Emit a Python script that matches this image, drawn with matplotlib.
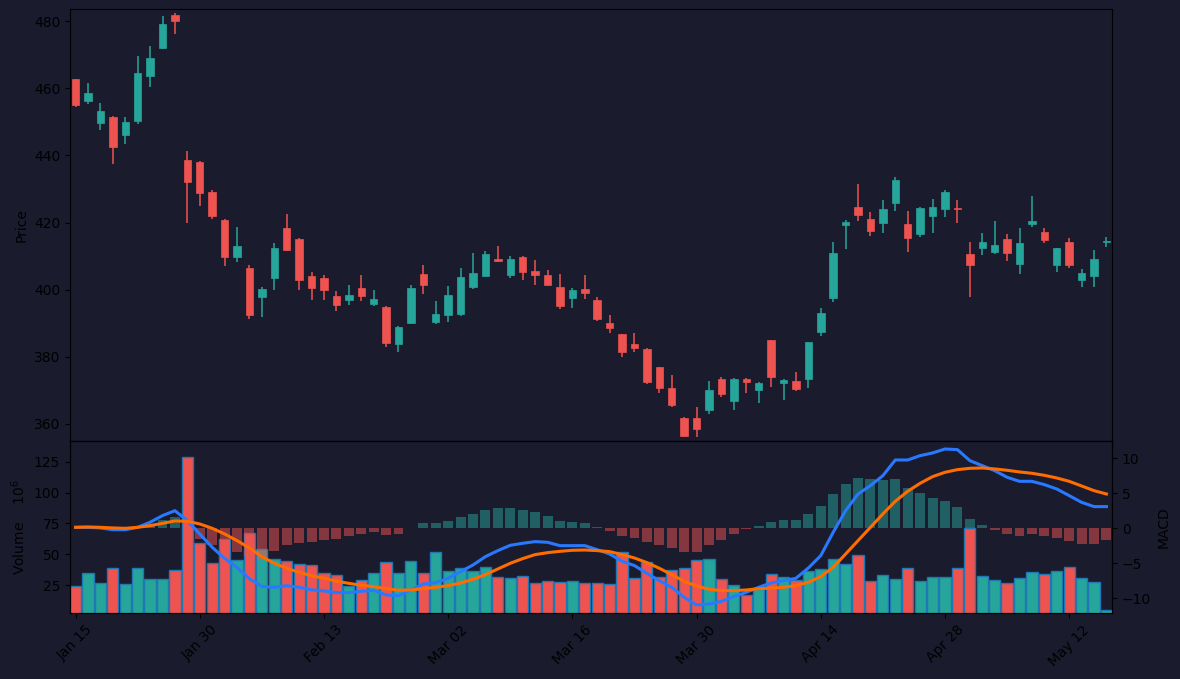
"""
plot.py
-------
Candlestick price chart with volume and MACD panel (dark theme).
"""

import matplotlib
matplotlib.use("Agg")
import matplotlib.pyplot as plt

# Colours
BG = "#1b1b2e"
UP = "#26a69a"
DOWN = "#ef5350"
MACD_COLOR = "#2979ff"
SIGNAL_COLOR = "#ff6d00"

# OHLC (one entry per trading session)
opens = [462.7, 456.3, 449.7, 451.4, 446.1, 450.3, 463.7, 472.0, 481.8, 438.6,
         438.0, 429.1, 420.7, 409.8, 406.4, 397.9, 403.6, 418.4, 415.1, 404.1,
         403.5, 398.1, 397.0, 400.5, 395.8, 394.8, 383.9, 390.2, 404.7, 390.5,
         392.5, 392.8, 400.9, 404.2, 409.1, 404.4, 409.7, 405.6, 404.4, 400.8,
         397.6, 400.2, 396.9, 390.1, 386.8, 383.8, 382.3, 376.9, 370.7, 361.8,
         361.8, 364.2, 373.4, 366.9, 373.4, 370.2, 385.0, 372.3, 372.8, 373.5,
         387.5, 397.6, 419.3, 424.6, 421.0, 419.9, 425.9, 419.5, 416.7, 422.0,
         424.1, 424.3, 410.6, 412.5, 411.3, 415.1, 407.7, 419.6, 417.2, 407.4,
         414.2, 403.0, 404.2, 414.1]
highs = [462.7, 461.7, 455.5, 451.6, 451.3, 469.5, 472.6, 481.5, 482.3, 441.3,
         438.3, 429.7, 420.9, 418.6, 407.2, 400.7, 413.8, 422.4, 415.3, 405.2,
         404.3, 399.5, 401.3, 404.3, 399.8, 395.0, 389.1, 401.3, 407.2, 396.5,
         401.0, 406.4, 410.8, 411.5, 412.9, 409.9, 410.0, 408.7, 405.8, 404.6,
         400.4, 404.3, 397.7, 392.4, 386.8, 387.0, 382.5, 377.0, 374.5, 362.2,
         365.1, 372.7, 373.9, 373.6, 373.6, 372.5, 385.1, 373.3, 375.5, 384.5,
         394.4, 414.1, 420.6, 431.4, 423.0, 426.8, 433.5, 423.3, 424.5, 426.9,
         429.6, 426.6, 414.1, 416.8, 420.4, 416.5, 418.3, 427.8, 418.3, 412.5,
         415.3, 406.1, 411.8, 415.6]
lows = [454.5, 455.2, 447.7, 437.3, 443.3, 449.2, 460.4, 471.6, 476.3, 419.8,
        425.0, 421.0, 407.1, 408.1, 391.2, 391.8, 399.8, 411.4, 399.8, 396.8,
        396.8, 393.5, 395.3, 396.5, 395.0, 382.8, 381.5, 389.9, 398.6, 389.7,
        390.3, 392.2, 400.1, 404.0, 408.1, 403.4, 402.8, 401.3, 401.5, 394.1,
        394.4, 397.3, 390.7, 387.0, 379.9, 381.5, 371.8, 369.3, 364.9, 356.2,
        356.0, 362.9, 367.9, 364.1, 369.3, 366.3, 371.1, 367.0, 369.9, 370.8,
        386.3, 396.4, 412.0, 420.4, 415.9, 416.8, 423.3, 411.1, 415.6, 416.8,
        421.5, 420.0, 397.7, 410.2, 410.5, 408.4, 404.8, 418.6, 413.8, 405.2,
        406.3, 400.7, 400.7, 412.6]
closes = [455.1, 458.5, 453.2, 442.6, 449.8, 464.5, 468.9, 479.1, 480.1, 432.1,
          428.9, 422.0, 409.8, 413.0, 392.5, 400.2, 412.4, 411.9, 403.0, 400.6,
          400.0, 395.5, 398.3, 398.2, 397.2, 384.2, 388.9, 400.5, 401.5, 392.7,
          398.4, 403.8, 405.0, 410.6, 408.5, 409.1, 405.3, 404.4, 401.5, 395.2,
          399.9, 399.1, 391.3, 388.7, 381.5, 382.7, 372.6, 370.8, 365.7, 356.5,
          358.6, 370.1, 369.0, 373.4, 372.6, 372.2, 374.1, 373.1, 370.5, 384.4,
          393.0, 410.9, 420.1, 422.3, 417.6, 424.0, 432.7, 415.5, 424.3, 424.6,
          429.1, 424.1, 407.4, 414.2, 413.3, 411.0, 413.9, 420.4, 414.9, 412.4,
          407.4, 405.0, 409.1, 414.4]

# Volume in millions
volume = [23.9, 34.5, 26.4, 38.5, 25.5, 38.5, 29.6, 29.6, 36.9, 128.5,
          58.8, 42.6, 62.3, 45.0, 66.9, 54.2, 45.8, 44.7, 42.3, 40.9,
          34.5, 32.8, 24.2, 28.8, 34.5, 43.4, 34.5, 44.2, 34.5, 51.5,
          36.1, 38.5, 36.1, 39.3, 31.2, 30.4, 32.0, 26.4, 28.0, 27.2,
          28.0, 26.4, 26.4, 25.5, 51.5, 30.4, 43.4, 31.2, 36.9, 38.5,
          45.0, 45.8, 29.6, 24.7, 16.6, 21.5, 33.6, 31.2, 28.8, 36.1,
          37.7, 45.8, 41.8, 49.1, 28.0, 32.8, 29.6, 38.5, 28.0, 31.2,
          31.2, 38.5, 70.9, 32.0, 28.8, 26.4, 30.4, 35.3, 33.6, 36.1,
          39.3, 30.4, 27.2, 4.5]

# MACD line, signal line and histogram
macd = [0.14, 0.14, 0.05, -0.2, -0.2, 0.14, 0.86, 1.81, 2.52, 1.1,
        -0.81, -2.71, -4.3, -5.6, -7.2, -8.3, -8.43, -8.2, -8.43, -8.8,
        -8.95, -9.19, -9.19, -9.0, -8.86, -9.52, -9.62, -8.81, -7.95, -7.76,
        -7.14, -6.19, -5.24, -4.05, -3.19, -2.43, -2.14, -1.9, -2.0, -2.48,
        -2.48, -2.48, -3.05, -3.67, -4.71, -5.33, -6.43, -7.48, -8.43, -9.86,
        -10.95, -10.81, -10.43, -9.76, -9.14, -8.43, -7.8, -7.48, -7.14, -5.67,
        -3.9, -0.57, 2.52, 4.9, 6.1, 7.52, 9.76, 9.76, 10.38, 10.76,
        11.33, 11.24, 9.67, 8.95, 8.24, 7.29, 6.71, 6.71, 6.24, 5.62,
        4.67, 3.71, 3.1, 3.1]
signal = [0.14, 0.19, 0.14, 0.05, 0.0, 0.14, 0.38, 0.71, 1.05, 1.0,
          0.62, 0.0, -0.81, -1.76, -2.81, -4.05, -5.0, -5.71, -6.29, -6.76,
          -7.14, -7.57, -7.86, -8.14, -8.33, -8.62, -8.84, -8.81, -8.62, -8.43,
          -8.19, -7.81, -7.29, -6.62, -5.81, -5.0, -4.33, -3.76, -3.48, -3.29,
          -3.14, -3.1, -3.19, -3.33, -3.76, -4.24, -4.9, -5.71, -6.62, -7.57,
          -8.24, -8.71, -8.9, -8.9, -8.81, -8.62, -8.55, -8.43, -8.19, -7.71,
          -6.9, -5.57, -3.67, -1.76, 0.14, 2.05, 3.86, 5.29, 6.43, 7.38,
          8.0, 8.38, 8.57, 8.62, 8.48, 8.29, 8.05, 7.86, 7.57, 7.19,
          6.71, 6.05, 5.38, 4.9]
hist = [0.0, -0.05, -0.1, -0.25, -0.2, 0.0, 0.45, 1.2, 1.6, 0.1,
        -1.5, -2.33, -3.0, -3.45, -4.0, -4.4, -3.2, -2.33, -2.05, -1.9,
        -1.67, -1.48, -1.05, -0.76, -0.48, -0.9, -0.76, 0.0, 0.76, 0.76,
        1.05, 1.62, 2.05, 2.62, 2.9, 2.9, 2.62, 2.33, 1.76, 1.05,
        0.9, 0.76, 0.14, -0.38, -1.1, -1.38, -1.95, -2.38, -2.81, -3.33,
        -3.33, -2.38, -1.67, -0.81, -0.1, 0.29, 0.9, 1.19, 1.19, 2.05,
        3.19, 4.9, 6.33, 7.19, 7.05, 6.9, 7.05, 5.76, 5.05, 4.33,
        3.9, 3.05, 1.33, 0.48, -0.24, -0.81, -1.1, -0.81, -1.1, -1.38,
        -1.81, -2.24, -2.24, -1.67]

# Date labels, one every 10 sessions
tick_labels = ["Jan 15", "Jan 30", "Feb 13", "Mar 02", "Mar 16",
               "Mar 30", "Apr 14", "Apr 28", "May 12"]


def draw_candles(ax, x, colors):
    """Wicks as vlines, bodies as bars."""
    ax.vlines(x, lows, highs, colors=colors, linewidth=1.1, zorder=2)
    bottoms = [min(o, c) for o, c in zip(opens, closes)]
    heights = [max(abs(c - o), 0.15) for o, c in zip(opens, closes)]
    ax.bar(x, heights, bottom=bottoms, width=0.6, color=colors,
           edgecolor=colors, linewidth=0.5, zorder=3)


def style_axis(ax):
    ax.set_facecolor(BG)
    for spine in ax.spines.values():
        spine.set_color("black")
    ax.tick_params(colors="black", labelcolor="black")


if __name__ == "__main__":
    x = list(range(len(opens)))
    colors = [UP if c >= o else DOWN for o, c in zip(opens, closes)]
    hist_colors = [UP if h >= 0 else DOWN for h in hist]

    fig = plt.figure(figsize=(11.8, 6.79), dpi=100, facecolor=BG)
    ax_price = fig.add_axes([0.0593, 0.3505, 0.8831, 0.6362])
    ax_vol = fig.add_axes([0.0593, 0.0972, 0.8831, 0.2533], sharex=ax_price)
    ax_macd = ax_vol.twinx()

    for ax in (ax_price, ax_vol, ax_macd):
        style_axis(ax)

    # Price panel
    draw_candles(ax_price, x, colors)
    ax_price.set_ylim(354.9, 483.6)
    ax_price.set_ylabel("Price", color="black")
    ax_price.tick_params(axis="x", bottom=False, labelbottom=False)

    # Volume panel
    ax_vol.bar(x, volume, width=0.9, color=colors, edgecolor="#1f77b4",
               linewidth=1.0)
    ax_vol.set_ylim(2.3, 141.8)
    ax_vol.set_yticks([25, 50, 75, 100, 125])
    ax_vol.set_ylabel(r"Volume    $10^6$", color="black")

    # MACD on twin axis
    ax_macd.bar(x, hist, width=0.8, color=hist_colors, alpha=0.5)
    ax_macd.plot(x, macd, color=MACD_COLOR, linewidth=2.2)
    ax_macd.plot(x, signal, color=SIGNAL_COLOR, linewidth=2.2)
    ax_macd.set_ylim(-12.1, 12.47)
    ax_macd.set_yticks([-10, -5, 0, 5, 10])
    ax_macd.set_ylabel("MACD", color="black")

    ax_vol.set_xlim(-0.45, 83.45)
    ax_vol.set_xticks(list(range(0, len(x), 10)))
    ax_vol.set_xticklabels(tick_labels)
    ax_vol.tick_params(axis="x", rotation=45)

    plt.savefig("out.png", dpi=100, facecolor=BG)
    plt.close()
